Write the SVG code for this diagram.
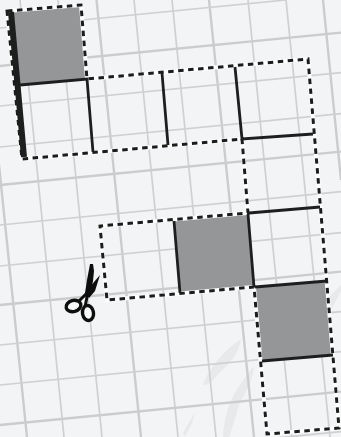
<svg xmlns="http://www.w3.org/2000/svg" width="341" height="437" viewBox="0 0 341 437">
<style>
.g{stroke:#cfd0d1;stroke-width:1.7;fill:none}
.gt{stroke:#cbcccd;stroke-width:2.4;fill:none}
.cell{fill:#949697}
.s{stroke:#1d1f1f;stroke-width:2.8;fill:none}
.w{stroke:#fff;stroke-width:4;fill:none}
.d{stroke:#1b1d1d;stroke-width:3;fill:none;stroke-dasharray:5.500 4.500}
</style>
<rect width="341" height="437" fill="#f2f4f5"/>
<g id="watermark" fill="#e7e9ea">
<path d="M203 385C208 370 222 352 241 339C240 350 232 362 220 372C214 380 208 386 203 385Z"/>
<path d="M223 437C224 415 232 395 240 385C245 378 250 370 254 366C253 380 246 392 240 402C236 415 232 430 229 437Z"/>
<path d="M183 433L195 412L192 423L185 437Z"/>
<path d="M326 300L341 285V291L332 308Z"/>
</g>
<g id="grid">
<path class="gt" d="M-18 0L27 437M96.500 0L141 437M209 0L254 437M323 0L341 180"/>
<path class="g" d="M20 0L64 437M58 0L102 437M134 0L178 437M172 0L216 437M248 0L292 437M286 0L330 437"/>
<path class="gt" d="M0 66L341 32.600M0 185L341 151.600M0 305L341 271.600M0 425L341 391.600"/>
<path class="g" d="M0 28L286 0M0 106L341 72.600M0 147L341 113.600M0 225L341 191.600M0 266L341 232.600M0 345L341 311.600M0 385L341 351.600M0 465L341 431.600"/>
</g>
<g id="cell-1"><path class="cell" d="M8 11L81 5L87 79L20 85Z"/></g>
<g id="cell-2"><path class="cell" d="M174 221L248 214L254 287L180 293Z"/></g>
<g id="cell-3"><path class="cell" d="M255 287L327 281L333 355L262 361Z"/></g>
<g id="outline">
<path class="w" d="M7 11L81 5L87 79L308 59L339 428L267 434L254 287L107 300L100 226L248 213L242 139L22 159Z"/>
<path class="d" d="M7 11L81 5L87 79L308 59L339 428L267 434L254 287L107 300L100 226L248 213L242 139L22 159Z"/>
</g>
<g id="folds">
<path class="s" style="stroke-width:6" d="M11 12L24 157"/>
<path class="s" d="M20 85L87 79L93 152M162 73L168 145M235 67L242 139L313 134M249 213L320 207M174 221L180 293M248 214L254 287M255 287L327 281M262 361L333 355"/>
</g>
<g id="scissors">
<path fill="#0e0e0e" d="M90 264L93 264L94 271L93 281L90 295L85 293L87 280Z"/>
<path fill="#0e0e0e" d="M100 275L95 291L89 298L86 294L90 287L94 282Z"/>
<path fill="none" stroke="#0e0e0e" stroke-width="3" d="M79 301L88 292M85 307L88 292"/>
<ellipse cx="73.500" cy="306" rx="7.500" ry="5.500" transform="rotate(-15 73.500 306)" fill="#f7f8f8" stroke="#0e0e0e" stroke-width="3.400"/>
<ellipse cx="88" cy="313" rx="5.500" ry="7.500" transform="rotate(-10 88 313)" fill="#f7f8f8" stroke="#0e0e0e" stroke-width="3.400"/>
</g>
</svg>
